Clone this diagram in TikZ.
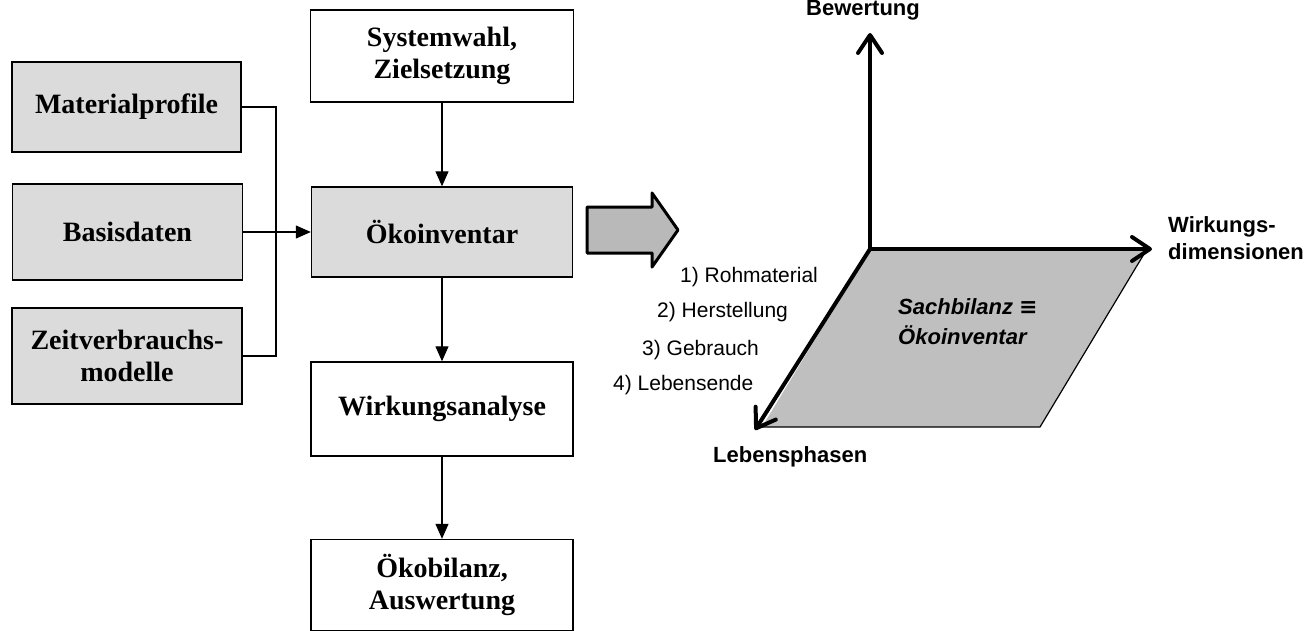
\documentclass[tikz,border=0pt]{standalone}
\usepackage{fontspec}
\setmainfont{Liberation Serif}
\setsansfont{Liberation Sans}
\newfontfamily\symfont{DejaVu Sans}
\usetikzlibrary{arrows.meta}

\begin{document}
\begin{tikzpicture}[x=1pt,y=-1pt,
    box/.style={draw,line width=1.4pt,align=center,
      font=\bfseries\fontsize{28}{32}\selectfont},
    greybox/.style={box,fill=gray!28},
    conn/.style={line width=1.2pt},
    flow/.style={conn,-{Triangle[length=15pt,width=13pt]}},
    axis/.style={line width=4pt,line cap=round,
      -{Straight Barb[length=18pt,width=24pt,round]}},
    lbl/.style={font=\sffamily\fontsize{21}{25}\selectfont,inner sep=0pt},
    blbl/.style={font=\sffamily\bfseries\fontsize{22}{27}\selectfont,inner sep=0pt,align=left}]
  \useasboundingbox (0,0) rectangle (1316,631);

  % Eingangsdaten
  \node[greybox,minimum width=229pt,minimum height=90pt] (mat) at (126.5,107) {Materialprofile};
  \node[greybox,minimum width=230pt,minimum height=96pt] (bas) at (127.5,232) {Basisdaten};
  \node[greybox,minimum width=230pt,minimum height=96pt] (zeit) at (127,356) {Zeitverbrauchs-\\modelle};

  % Hauptablauf
  \node[box,minimum width=263pt,minimum height=92pt] (sys) at (442,56) {Systemwahl,\\Zielsetzung};
  \node[greybox,minimum width=261pt,minimum height=90pt] (oeko) at (442,232) {Ökoinventar};
  \node[box,minimum width=262pt,minimum height=94pt] (wirk) at (442,409) {Wirkungsanalyse};
  \node[box,minimum width=262pt,minimum height=91pt] (bil) at (442,585) {Ökobilanz,\\Auswertung};

  \coordinate (jn) at (276,232);
  \draw[conn] (mat.east) -| (jn) |- (zeit.east);
  \draw[flow] (bas.east) -- (oeko.west);
  \draw[flow] (sys) -- (oeko);
  \draw[flow] (oeko) -- (wirk);
  \draw[flow] (wirk) -- (bil);

  % dicker Pfeil
  \filldraw[fill=gray!55,line width=3pt,line join=round]
    (587,207) -- (652,207) -- (652,193) -- (678,230) -- (652,267) -- (652,253) -- (587,253) -- cycle;

  % Achsen
  \coordinate (O) at (870,249);
  \coordinate (W) at (1152,249);
  \coordinate (B) at (870,33);
  \coordinate (L) at (755,430);
  \fill[gray!50] (O) -- (1147,249) -- (1040,427) -- (762,427) -- cycle;
  \draw[line width=1.2pt] (1147,249) -- (1040,427) -- (762,427);
  \draw[axis] (O) -- (B);
  \draw[axis] (O) -- (W);
  \draw[axis] (O) -- (L);

  \node[blbl,anchor=base] (bew) at (863,16) {Bewertung};
  \node[blbl,anchor=west] (wd) at (1168,238) {Wirkungs-\\dimensionen};
  \node[blbl,anchor=base west] (leb) at (713,462) {Lebensphasen};
  \node[blbl,anchor=west,font=\sffamily\bfseries\itshape\fontsize{22}{30}\selectfont]
    (sach) at (898,322) {Sachbilanz {\symfont\bfseries ≡}\\Ökoinventar};

  \node[lbl,anchor=base west] (p1) at (680,282) {1) Rohmaterial};
  \node[lbl,anchor=base west] (p2) at (657,317) {2) Herstellung};
  \node[lbl,anchor=base west] (p3) at (642,355) {3) Gebrauch};
  \node[lbl,anchor=base west] (p4) at (613,390) {4) Lebensende};
\end{tikzpicture}
\end{document}
